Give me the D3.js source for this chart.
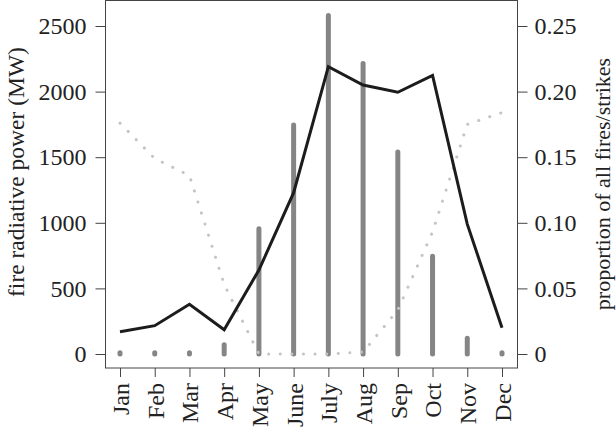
<!DOCTYPE html>
<html>
<head>
<meta charset="utf-8">
<script src="https://cdn.jsdelivr.net/npm/d3@7"></script>
<style>
  body { margin: 0; background: #fff; }
  svg text { font-family: "Liberation Serif", "DejaVu Serif", serif; fill: #222; }
</style>
</head>
<body>
<div id="chart"></div>
<script>
// --- DATA ---
const months = ['Jan', 'Feb', 'Mar', 'Apr', 'May', 'June', 'July', 'Aug', 'Sep', 'Oct', 'Nov', 'Dec'];
// fire radiative power (MW), left axis - black line
const frp = [170, 216, 379, 185, 640, 1230, 2190, 2050, 1995, 2124, 990, 200];
// proportion of all fires, right axis - grey bars
const fireProp = [0.001, 0.001, 0.001, 0.007, 0.0955, 0.1745, 0.258, 0.2215, 0.154, 0.0745, 0.012, 0.001];
// proportion of lightning strikes, right axis - dotted line
const strikeProp = [0.176, 0.149, 0.136, 0.053, 0.0, 0.0, 0.0, 0.0015, 0.0335, 0.093, 0.175, 0.184];
const leftTicks = [0, 500, 1000, 1500, 2000, 2500];
const rightTicks = [0, 0.05, 0.10, 0.15, 0.20, 0.25];
const rightTickLabels = ['0', '0.05', '0.10', '0.15', '0.20', '0.25'];

// --- LAYOUT ---
const W = 616, H = 432;
const box = { left: 105, right: 517, top: 0.5, bottom: 368 };

const svg = d3.select('#chart').append('svg')
    .attr('width', W)
    .attr('height', H);

const x = d3.scalePoint().domain(months).range([120, 502]);
const yL = d3.scaleLinear().domain([0, 2500]).range([354, 26]);
const yR = d3.scaleLinear().domain([0, 0.25]).range([354, 26]);

// grey bars (proportion of fires)
svg.append('g').selectAll('line')
    .data(months)
    .join('line')
    .attr('x1', d => x(d))
    .attr('x2', d => x(d))
    .attr('y1', yR(0))
    .attr('y2', (d, i) => yR(fireProp[i]))
    .attr('stroke', '#858585')
    .attr('stroke-width', 5)
    .attr('stroke-linecap', 'round');

// dotted line (strikes)
const strikeLine = d3.line()
    .x((d, i) => x(months[i]))
    .y(d => yR(d));

svg.append('path')
    .datum(strikeProp)
    .attr('d', strikeLine)
    .attr('fill', 'none')
    .attr('stroke', '#c4c4c4')
    .attr('stroke-width', 3)
    .attr('stroke-linecap', 'round')
    .attr('stroke-dasharray', '0.1 11.5');

// black line (FRP)
const frpLine = d3.line()
    .x((d, i) => x(months[i]))
    .y(d => yL(d));

svg.append('path')
    .datum(frp)
    .attr('d', frpLine)
    .attr('fill', 'none')
    .attr('stroke', '#1c1c1c')
    .attr('stroke-width', 3)
    .attr('stroke-linejoin', 'miter');

// box
svg.append('rect')
    .attr('x', box.left + 0.5)
    .attr('y', box.top)
    .attr('width', box.right - box.left)
    .attr('height', box.bottom - box.top)
    .attr('fill', 'none')
    .attr('stroke', '#444')
    .attr('stroke-width', 1);

// --- AXES ---
function styleAxis(g) {
    g.attr('font-family', '"Liberation Serif", serif').attr('font-size', 24);
    g.select('.domain').remove();
    g.selectAll('.tick line').attr('stroke', '#444');
    g.selectAll('.tick text').attr('fill', '#222');
}

svg.append('g')
    .attr('transform', `translate(${box.left + 0.5},0)`)
    .call(d3.axisLeft(yL).tickValues(leftTicks).tickSize(10).tickPadding(9)
        .tickFormat(d3.format('d')))
    .call(styleAxis);

svg.append('g')
    .attr('transform', `translate(${box.right + 0.5},0)`)
    .call(d3.axisRight(yR).tickValues(rightTicks).tickSize(10).tickPadding(7)
        .tickFormat((d, i) => rightTickLabels[i]))
    .call(styleAxis);

const xAxis = svg.append('g')
    .attr('transform', `translate(0,${box.bottom})`)
    .call(d3.axisBottom(x).tickSize(9).tickPadding(6))
    .call(styleAxis);

xAxis.selectAll('.tick text')
    .attr('transform', 'rotate(-90)')
    .attr('x', -15)
    .attr('y', 0)
    .attr('dy', '0.35em')
    .style('text-anchor', 'end');

// axis titles
svg.append('text')
    .attr('transform', 'translate(24,172) rotate(-90)')
    .attr('text-anchor', 'middle')
    .style('font-size', '23.5px')
    .text('fire radiative power (MW)');

svg.append('text')
    .attr('transform', 'translate(610,184) rotate(-90)')
    .attr('text-anchor', 'middle')
    .style('font-size', '22px')
    .text('proportion of all fires/strikes');
</script>
</body>
</html>
